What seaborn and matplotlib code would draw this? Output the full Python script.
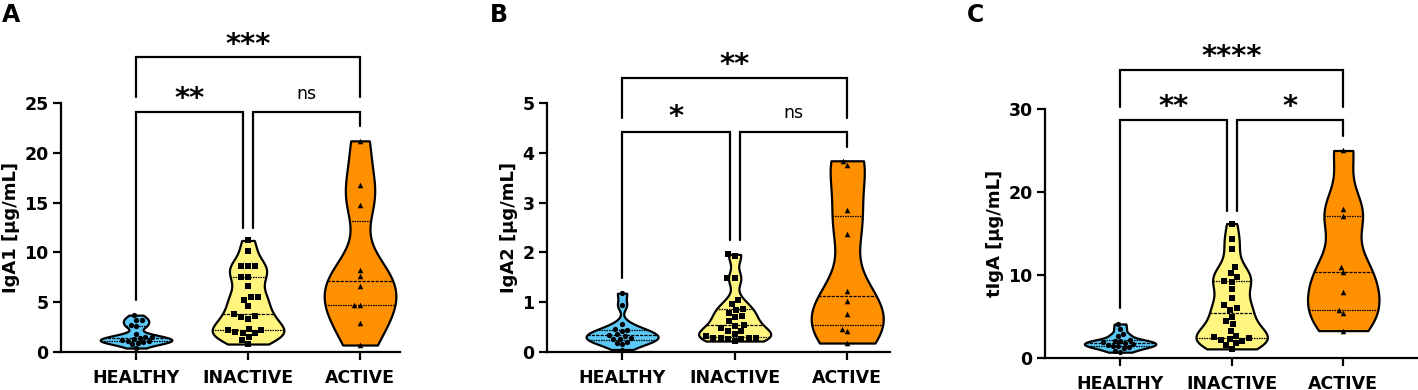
import numpy as np
import pandas as pd
import matplotlib
matplotlib.use("Agg")
import matplotlib.pyplot as plt
import seaborn as sns

# groups and colours
groups = ["HEALTHY", "INACTIVE", "ACTIVE"]
colors = ["#5BC8F5", "#FFF57F", "#FF9100"]
markers = ["o", "s", "^"]
msizes = [3.8, 5.0, 4.0]

# IgA1 [ug/mL]
iga1_healthy = [3.7, 3.2, 3.2, 2.7, 2.6, 1.8, 1.5, 1.5, 1.4, 1.3, 1.2, 1.1, 1.1, 1.0, 0.9, 0.8, 0.4]
iga1_inactive = [11.2, 10.1, 8.6, 8.6, 8.6, 7.5, 7.5, 6.6, 5.5, 5.5, 5.2, 4.6, 3.8, 3.6, 3.5,
                 3.3, 2.3, 2.2, 2.2, 2.0, 1.9, 1.9, 1.5, 1.2, 0.8]
iga1_active = [21.2, 16.8, 14.8, 8.2, 7.6, 6.6, 4.7, 4.7, 2.9, 0.7]

# IgA2 [ug/mL]
iga2_healthy = [1.18, 0.94, 0.57, 0.46, 0.44, 0.42, 0.36, 0.34, 0.33, 0.28, 0.27, 0.26,
                0.20, 0.18, 0.17, 0.05]
iga2_inactive = [1.96, 1.93, 1.48, 1.48, 1.05, 0.96, 0.86, 0.84, 0.78, 0.72, 0.70, 0.62, 0.55,
                 0.53, 0.48, 0.42, 0.42, 0.36, 0.32, 0.29, 0.28, 0.28, 0.28, 0.27, 0.27, 0.22]
iga2_active = [3.84, 3.76, 2.86, 2.36, 1.22, 1.02, 0.77, 0.47, 0.42, 0.18]

# total IgA [ug/mL]
tiga_healthy = [4.1, 3.5, 2.9, 2.6, 2.2, 2.1, 2.0, 1.9, 1.8, 1.7, 1.6, 1.5, 1.4, 1.3, 1.2, 0.9, 0.7]
tiga_inactive = [16.2, 14.3, 13.1, 11.0, 10.3, 9.8, 9.3, 9.2, 8.3, 7.2, 6.4, 6.0, 5.8, 5.0, 4.4,
                 4.1, 3.3, 2.7, 2.5, 2.4, 2.3, 2.2, 2.1, 1.8, 1.6, 1.1]
tiga_active = [25.0, 17.9, 17.1, 11.0, 10.4, 8.0, 5.8, 5.4, 3.3]

ylabels = ["IgA1 [µg/mL]", "IgA2 [µg/mL]", "tIgA [µg/mL]"]
yticks = [[0, 5, 10, 15, 20, 25], [0, 1, 2, 3, 4, 5], [0, 10, 20, 30]]
panel_labels = ["A", "B", "C"]
# significance: (healthy-inactive, inactive-active, healthy-active)
signif = [["**", "ns", "***"], ["*", "ns", "**"], ["**", "*", "****"]]

panels = [
    [iga1_healthy, iga1_inactive, iga1_active],
    [iga2_healthy, iga2_inactive, iga2_active],
    [tiga_healthy, tiga_inactive, tiga_active],
]

sns.set_style("ticks")
plt.rcParams["font.family"] = ["DejaVu Sans"]
plt.rcParams["font.weight"] = "bold"
for key in ["text.color", "axes.labelcolor", "xtick.color", "ytick.color", "axes.edgecolor"]:
    plt.rcParams[key] = "black"

W, H = 1418, 390
fig = plt.figure(figsize=(W / 100, H / 100), dpi=100)

# axes boxes in pixels: left, right, y of zero, y of top tick ; xlim
boxes = [
    (61, 400, 352, 103, (-0.67, 2.357)),
    (547, 890, 352, 103, (-0.667, 2.38)),
    (1045, 1418, 358, 109, (-0.673, 2.67)),
]
# bracket layout (data units): bars, leg ends, label centres
brackets = [
    dict(low=24.1, top=29.6, h_leg=5.2, i_leg=12.4, a_leg=22.7, t_leg=25.6, s_low=25.9, s_top=31.3),
    dict(low=4.42, top=5.51, h_leg=1.48, i_leg=2.25, a_leg=4.12, t_leg=4.69, s_low=4.8, s_top=5.86),
    dict(low=28.7, top=34.75, h_leg=5.97, i_leg=17.75, a_leg=26.8, t_leg=30.3, s_low=30.8, s_top=36.8),
]
letter_x = [2, 490, 967]

for k, vals in enumerate(panels):
    left, right, y0, ytop, xlim = boxes[k]
    ax = fig.add_axes([left / W, (H - y0) / H, (right - left) / W, (y0 - ytop) / H])

    df = pd.DataFrame({
        "group": np.repeat(groups, [len(v) for v in vals]),
        "value": np.concatenate(vals),
    })

    sns.violinplot(data=df, x="group", y="value", order=groups, hue="group",
                   hue_order=groups, palette=colors, saturation=1, legend=False, cut=0,
                   density_norm="width", width=0.64, bw_adjust=0.6,
                   inner="quart", linecolor="black", linewidth=1.6,
                   inner_kws=dict(linewidth=0.9), ax=ax)
    for g, m, s in zip(groups, markers, msizes):
        sub = df[df["group"] == g]
        sns.swarmplot(data=sub, x="group", y="value", order=groups, color="black",
                      marker=m, size=s, linewidth=0, ax=ax)

    ax.set_xlim(*xlim)
    ax.set_ylim(0, yticks[k][-1])
    ax.set_yticks(yticks[k])
    ax.set_xlabel("")
    ax.set_ylabel(ylabels[k], fontsize=13, fontweight="bold", labelpad=3)
    ax.tick_params(axis="y", labelsize=12.5, width=1.6, length=6, pad=3)
    ax.tick_params(axis="x", labelsize=12.5, width=1.6, length=6, pad=6)
    for lab in ax.get_xticklabels() + ax.get_yticklabels():
        lab.set_fontweight("bold")
    sns.despine(ax=ax)
    for sp in ["left", "bottom"]:
        ax.spines[sp].set_linewidth(1.6)

    # significance brackets
    b = brackets[k]
    kw = dict(color="black", lw=1.6, clip_on=False, solid_joinstyle="miter")
    ax.plot([0, 0, 0.955, 0.955], [b["h_leg"], b["low"], b["low"], b["i_leg"]], **kw)
    ax.plot([1.045, 1.045, 2, 2], [b["i_leg"], b["low"], b["low"], b["a_leg"]], **kw)
    ax.plot([0, 0, 2, 2], [b["t_leg"], b["top"], b["top"], b["t_leg"]], **kw)
    for xpos, ypos, txt in [(0.48, b["s_low"], signif[k][0]),
                            (1.52, b["s_low"], signif[k][1]),
                            (1.0, b["s_top"], signif[k][2])]:
        if txt == "ns":
            ax.annotate(txt, (xpos, ypos), xytext=(0, -3.4), textcoords="offset points",
                        ha="center", va="baseline", fontsize=12.5, fontweight="normal",
                        annotation_clip=False)
        else:
            ax.annotate(txt, (xpos, ypos), xytext=(0, -9), textcoords="offset points",
                        ha="center", va="baseline", fontsize=21, fontweight="bold",
                        annotation_clip=False)

    fig.text(letter_x[k] / W, 1 - 3 / H, panel_labels[k], ha="left", va="top",
             fontsize=17, fontweight="bold")

fig.savefig("out.png", dpi=100)
